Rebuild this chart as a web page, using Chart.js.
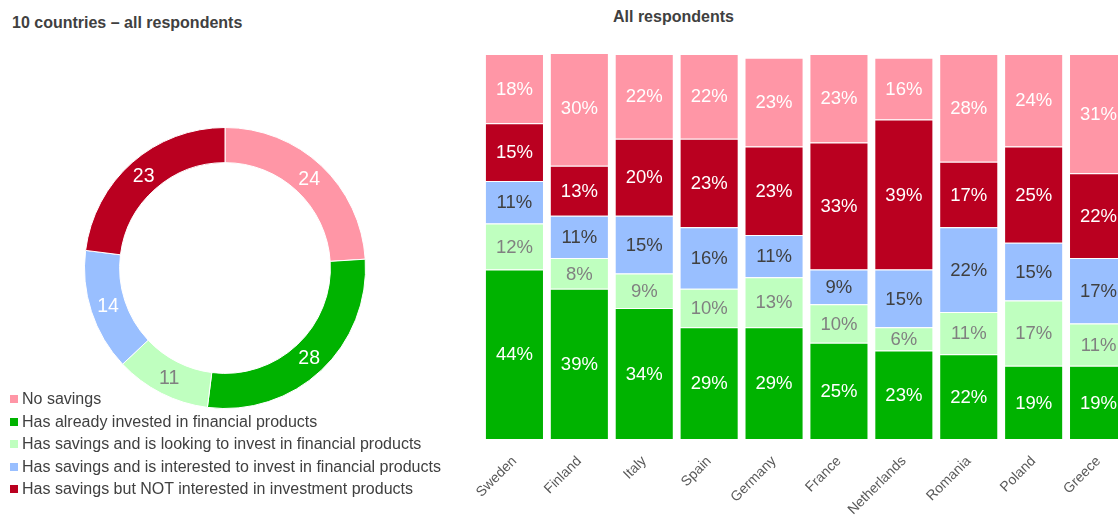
<!DOCTYPE html>
<html>
<head>
<meta charset="utf-8">
<script src="https://cdn.jsdelivr.net/npm/chart.js@4/dist/chart.umd.min.js"></script>
<style>
  html, body { margin: 0; padding: 0; background: #fff; }
  body { width: 1118px; height: 521px; overflow: hidden; position: relative; font-family: "Liberation Sans", Arial, sans-serif; color: #404040; }
  .titulo { position: absolute; font-weight: bold; font-size: 16px; line-height: 16px; white-space: nowrap; }
  #titulo-total { left: 12px; top: 14.5px; }
  #titulo-paises { left: 613px; top: 9px; }
  #wrap-rosca { position: absolute; left: 0; top: 0; width: 450px; height: 521px; }
  #wrap-barras { position: absolute; left: 470px; top: 0; width: 680px; height: 521px; }
  #legenda { position: absolute; left: 10px; top: 389px; margin: 0; padding: 0; list-style: none; font-size: 16px; }
  #legenda li { height: 22.5px; line-height: 20px; white-space: nowrap; }
  #legenda span.caixa { display: inline-block; width: 8px; height: 8px; margin-right: 4px; vertical-align: 1px; }
</style>
</head>
<body>
<div class="titulo" id="titulo-total">10 countries – all respondents</div>
<div class="titulo" id="titulo-paises">All respondents</div>
<div id="wrap-rosca"><canvas id="rosca" width="450" height="521"></canvas></div>
<div id="wrap-barras"><canvas id="barras" width="680" height="521"></canvas></div>
<ul id="legenda"></ul>

<script>
// --- dados ---
const categorias = [
  'No savings',
  'Has already invested in financial products',
  'Has savings and is looking to invest in financial products',
  'Has savings and is interested to invest in financial products',
  'Has savings but NOT interested in investment products'
];
const totalGeral = [24, 28, 11, 14, 23];

const paises = ['Sweden', 'Finland', 'Italy', 'Spain', 'Germany', 'France', 'Netherlands', 'Romania', 'Poland', 'Greece'];
const semPoupanca    = [18, 30, 22, 22, 23, 23, 16, 28, 24, 31];
const jaInvestiu     = [44, 39, 34, 29, 29, 25, 23, 22, 19, 19];
const procuraInvestir = [12, 8, 9, 10, 13, 10, 6, 11, 17, 11];
const interessado    = [11, 11, 15, 16, 11, 9, 15, 22, 15, 17];
const naoInteressado = [15, 13, 20, 23, 23, 33, 39, 17, 25, 22];

// --- cores ---
const COR = {
  rosa: '#FF96A6',
  vermelho: '#BA0020',
  verde: '#00B300',
  verdeClaro: '#BFFFBF',
  azul: '#99BFFF'
};
const coresCategorias = [COR.rosa, COR.verde, COR.verdeClaro, COR.azul, COR.vermelho];

Chart.defaults.font.family = '"Liberation Sans", Arial, sans-serif';
Chart.defaults.color = '#595959';

// escreve o valor no meio de cada barra / fatia
const rotulosValor = {
  id: 'rotulosValor',
  afterDatasetsDraw(chart, args, opts) {
    const ctx = chart.ctx;
    ctx.save();
    ctx.font = opts.font;
    ctx.textAlign = 'center';
    ctx.textBaseline = 'middle';
    chart.data.datasets.forEach((ds, i) => {
      const meta = chart.getDatasetMeta(i);
      meta.data.forEach((el, j) => {
        const p = el.getCenterPoint();
        const cor = Array.isArray(ds.corRotulo) ? ds.corRotulo[j] : ds.corRotulo;
        ctx.fillStyle = cor || '#fff';
        ctx.fillText(ds.data[j] + (opts.sufixo || ''), p.x, p.y + 1);
      });
    });
    ctx.restore();
  }
};

// --- rosca: total dos 10 países ---
const rosca = new Chart(document.getElementById('rosca'), {
  type: 'doughnut',
  data: {
    labels: categorias,
    datasets: [{
      data: totalGeral,
      backgroundColor: coresCategorias,
      borderColor: '#fff',
      borderWidth: 1,
      corRotulo: ['#fff', '#fff', '#808080', '#fff', '#fff']
    }]
  },
  options: {
    responsive: false,
    animation: false,
    cutout: '75%',
    layout: { padding: { left: 84, right: 84, top: 127, bottom: 112 } },
    plugins: {
      legend: { display: false },
      tooltip: { enabled: false },
      rotulosValor: { font: '19.5px "Liberation Sans", Arial, sans-serif' }
    }
  },
  plugins: [rotulosValor]
});

// legenda em HTML, gerada a partir da rosca
const legenda = document.getElementById('legenda');
Chart.overrides.doughnut.plugins.legend.labels.generateLabels(rosca).forEach(item => {
  const li = document.createElement('li');
  const caixa = document.createElement('span');
  caixa.className = 'caixa';
  caixa.style.background = item.fillStyle;
  li.appendChild(caixa);
  li.appendChild(document.createTextNode(item.text));
  legenda.appendChild(li);
});

// --- barras empilhadas por país ---
new Chart(document.getElementById('barras'), {
  type: 'bar',
  data: {
    labels: paises,
    datasets: [
      { label: categorias[1], data: jaInvestiu, backgroundColor: COR.verde, corRotulo: '#fff' },
      { label: categorias[2], data: procuraInvestir, backgroundColor: COR.verdeClaro, corRotulo: '#808080' },
      { label: categorias[3], data: interessado, backgroundColor: COR.azul, corRotulo: '#404040' },
      { label: categorias[4], data: naoInteressado, backgroundColor: COR.vermelho, corRotulo: '#fff' },
      { label: categorias[0], data: semPoupanca, backgroundColor: COR.rosa, corRotulo: '#fff' }
    ]
  },
  options: {
    responsive: false,
    animation: false,
    layout: { padding: { left: 12, right: 19, top: 54, bottom: 0 } },
    datasets: {
      bar: { barPercentage: 0.91, categoryPercentage: 1, borderColor: '#fff', borderWidth: 1 }
    },
    scales: {
      x: {
        stacked: true,
        grid: { display: false, drawTicks: false },
        border: { display: false },
        ticks: { minRotation: 45, maxRotation: 45, autoSkip: false, padding: 14, font: { size: 14 }, color: '#595959' },
        // altura fixa do eixo e sem recuo extra para os nomes inclinados
        afterFit(escala) {
          escala.height = 82;
          escala.paddingLeft = 0;
          escala.paddingRight = 0;
        }
      },
      y: { stacked: true, display: false, min: 0, max: 100 }
    },
    plugins: {
      legend: { display: false },
      tooltip: { enabled: false },
      rotulosValor: { font: '18.5px "Liberation Sans", Arial, sans-serif', sufixo: '%' }
    }
  },
  plugins: [rotulosValor]
});
</script>
</body>
</html>
